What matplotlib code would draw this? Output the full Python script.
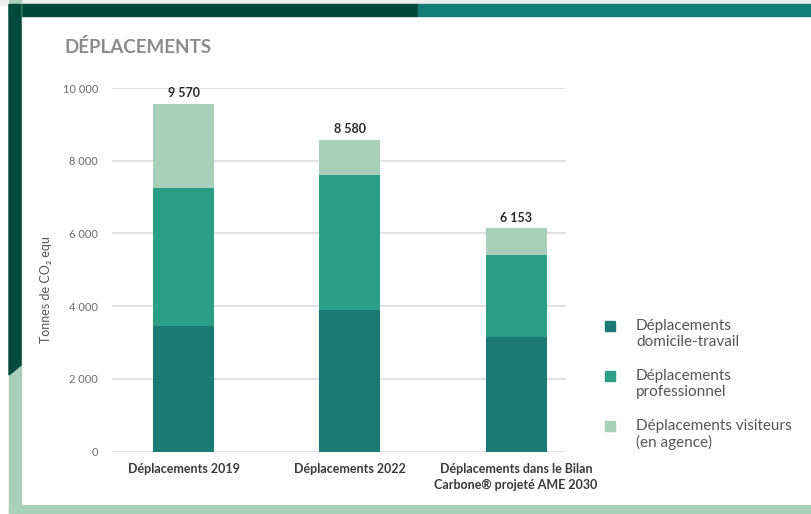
import matplotlib
matplotlib.use("Agg")
import matplotlib.pyplot as plt
from matplotlib.patches import Rectangle, Polygon
import numpy as np

categories = ["Déplacements 2019", "Déplacements 2022",
              "Déplacements dans le Bilan\nCarbone® projeté AME 2030"]
domicile_travail = [3460, 3900, 3150]
professionnel = [3800, 3710, 2260]
visiteurs = [2310, 970, 743]
totals_labels = ["9 570", "8 580", "6 153"]
legend_labels = ["Déplacements\ndomicile-travail", "Déplacements\nprofessionnel",
                 "Déplacements visiteurs\n(en agence)"]
yticks = [0, 2000, 4000, 6000, 8000, 10000]
ytick_labels = ["0", "2 000", "4 000", "6 000", "8 000", "10 000"]

c_dark = "#1b7a73"
c_mid = "#2b9e86"
c_light = "#a7cfba"
colors = [c_dark, c_mid, c_light]

FONT = ["Lato", "DejaVu Sans"]
plt.rcParams["font.family"] = FONT

W, H = 812, 514
fig = plt.figure(figsize=(W / 100, H / 100), dpi=100)
fig.patch.set_facecolor("#ffffff")

def fx(x):
    return x / W

def fy(y):
    return 1 - y / H

# decorative frame
fig.patches.append(Rectangle((0, fy(4.5)), 1, 4.5 / H, transform=fig.transFigure,
                             color="#eeeeee", zorder=0))
fig.patches.append(Rectangle((fx(9), fy(16)), fx(418) - fx(9), 11.5 / H,
                             transform=fig.transFigure, color="#03493b", zorder=1))
fig.patches.append(Rectangle((fx(418), fy(16)), 1 - fx(418), 11.5 / H,
                             transform=fig.transFigure, color="#137d7a", zorder=1))
fig.patches.append(Rectangle((fx(9), 0), fx(21) - fx(9), 1,
                             transform=fig.transFigure, color="#a9d0bd", zorder=1))
fig.patches.append(Polygon([(fx(9), fy(4.5)), (fx(21), fy(4.5)), (fx(21), fy(365)),
                            (fx(9), fy(375))], closed=True,
                           transform=fig.transFigure, color="#03493b", zorder=2))
fig.patches.append(Rectangle((fx(9), 0), 1 - fx(9), (H - 505) / H,
                             transform=fig.transFigure, color="#a9d0bd", zorder=1))

# title
fig.text(fx(64), fy(47), "DÉPLACEMENTS", fontsize=13.5, fontweight="bold",
         color="#8c8c8c", ha="left", va="center")

ax = fig.add_axes([fx(112), fy(451.7), fx(566) - fx(112), (451.7 - 88) / H])
ax.set_facecolor("none")
x = np.arange(len(categories))
width = 0.367
bottoms = np.zeros(len(categories))
for vals, col in zip([domicile_travail, professionnel, visiteurs], colors):
    ax.bar(x, vals, width=width, bottom=bottoms, color=col, zorder=3)
    bottoms += np.array(vals)

for xi, tot, lab in zip(x, bottoms, totals_labels):
    ax.text(xi, tot + 120, lab, ha="center", va="bottom", fontsize=9,
            fontweight="bold", color="#2b2b2b")

ax.set_xlim(-0.43, 2.30)
ax.set_ylim(0, 10000)
ax.set_yticks(yticks)
ax.set_yticklabels(ytick_labels)
ax.yaxis.grid(True, color="#dcdcdc", linewidth=1.2, zorder=0)
ax.set_axisbelow(True)
ax.tick_params(axis="y", length=0, pad=10, labelsize=8, labelcolor="#6a6a6a")
ax.set_xticks(x)
ax.set_xticklabels(categories, fontsize=9, fontweight="bold", color="#3a3a3a",
                   va="top", linespacing=1.45)
ax.tick_params(axis="x", length=0, pad=8)
for s in ax.spines.values():
    s.set_visible(False)

fig.text(fx(46), fy(290), "Tonnes de CO₂ equ", rotation=90, fontsize=9,
         color="#555555", ha="center", va="center")

# legend
leg_y = [326, 376, 426]
for yy, col, lab in zip(leg_y, colors, legend_labels):
    fig.patches.append(Rectangle((fx(605), fy(yy + 5)), 10 / W, 10 / H,
                                 transform=fig.transFigure, color=col, zorder=3))
    fig.text(fx(636), fy(yy - 7), lab, fontsize=11, color="#555555",
             ha="left", va="top", linespacing=1.2)

fig.savefig("out.png", dpi=100)
